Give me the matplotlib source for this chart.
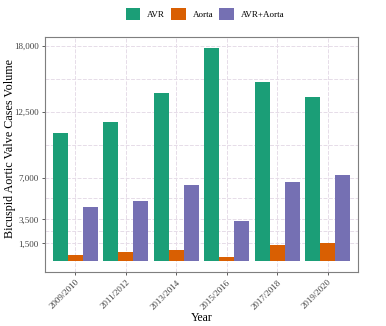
import numpy as np
import matplotlib
matplotlib.use('Agg')
import matplotlib.pyplot as plt
from matplotlib.patches import Patch

plt.rcParams['font.family'] = ['Liberation Serif', 'DejaVu Serif']

# Cases per two-year period
years = ['2009/2010', '2011/2012', '2013/2014', '2015/2016', '2017/2018', '2019/2020']
avr = [10700, 11650, 14100, 17850, 15000, 13700]
aorta = [530, 750, 950, 400, 1350, 1500]
avr_aorta = [4500, 5000, 6400, 3400, 6650, 7200]

series = ['AVR', 'Aorta', 'AVR+Aorta']
colors = ['#1B9E77', '#D95F02', '#7570B3']
y_breaks = [1500, 3500, 7000, 12500, 18000]
y_minor = [2500, 5250, 9750, 15250]

fig = plt.figure(figsize=(3.86, 3.26), dpi=100)
ax = fig.add_axes([45 / 386, 1 - 272 / 326, 313 / 386, 235 / 326])

x = np.arange(len(years))
bw = 0.9 / 3
for i, (vals, c) in enumerate(zip([avr, aorta, avr_aorta], colors)):
    ax.bar(x + (i - 1) * bw, vals, width=bw, color=c, edgecolor='none', zorder=3)

# grid lines
grid_kw = dict(color='#e6dce8', linewidth=0.7, linestyle=(0, (4, 1.5)), zorder=1)
for v in y_breaks + y_minor:
    ax.axhline(v, **grid_kw)
for xv in x:
    ax.axvline(xv, **grid_kw)

ymax = max(avr)
ax.set_ylim(-0.05 * ymax, ymax * 1.05)
ax.set_xlim(-0.6, len(years) - 0.4)

ax.set_yticks(y_breaks)
ax.set_yticklabels([f'{v:,}' for v in y_breaks], fontsize=6.5, color='#444444')
ax.set_xticks(x)
ax.set_xticklabels(years, rotation=45, ha='right', va='top', fontsize=6.5,
                   color='#444444', rotation_mode='anchor')
ax.tick_params(axis='both', length=2.5, width=0.6, color='#444444', pad=2)

for s in ax.spines.values():
    s.set_color('#7f7f7f')
    s.set_linewidth(0.8)

fig.text(10 / 386, 1 - 149 / 326, 'Bicuspid Aortic Valve Cases Volume', fontsize=8.7,
         rotation=90, ha='center', va='center')
ax.set_xlabel('Year', fontsize=8.5, labelpad=1)

handles = [Patch(facecolor=c, edgecolor='none', label=s) for s, c in zip(series, colors)]
fig.legend(handles=handles, loc='center', bbox_to_anchor=(205 / 386, 1 - 14 / 326), ncol=3,
           frameon=False, fontsize=6.5, handlelength=1.6, handleheight=1.6,
           handletextpad=0.75, columnspacing=0.7, borderpad=0)

fig.savefig('out.png', dpi=100)
